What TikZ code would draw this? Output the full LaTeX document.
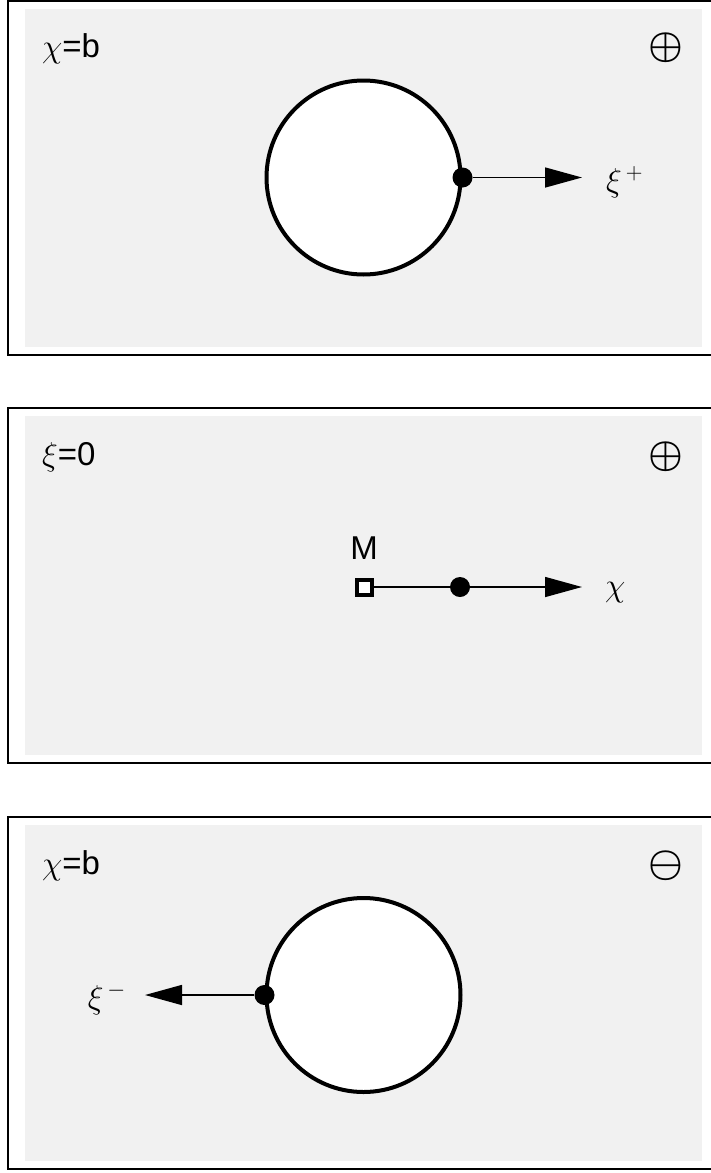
\RequirePackage{fix-cm}
\documentclass[tikz,border=0pt]{standalone}
\usepackage{fontspec}
\setmainfont{Liberation Sans}
\usepackage{xcolor}
\definecolor{pgray}{RGB}{241,241,241}
\usetikzlibrary{arrows.meta,positioning}

\begin{document}
\begin{tikzpicture}[
  x=1pt,y=-1pt,
  frame/.style={draw=black,line width=1.5pt,fill=white},
  back/.style={fill=pgray},
  ring/.style={circle,draw,line width=4pt,fill=white,minimum size=194pt,inner sep=0pt},
  dot/.style={circle,fill=black,minimum size=20pt,inner sep=0pt},
  mbox/.style={rectangle,draw,line width=4pt,fill=white,minimum size=15pt,inner sep=0pt},
  flow/.style={-{Triangle[length=37pt,width=20pt]},line width=1.5pt},
  lbl/.style={font=\fontsize{33}{40}\selectfont,inner sep=0pt},
  sign/.style={font=\fontsize{39}{46}\selectfont\boldmath,inner sep=0pt}
]
  \useasboundingbox (0,0) rectangle (710,1173);

  % Panel 1
  \draw[frame] (8,1) rectangle (716,355);
  \fill[back] (25,9) rectangle (702,347);
  \node[lbl,anchor=base west] (h1) at (42,57) {$\chi$=b};
  \node[sign] (s1) at (665.5,48) {$\oplus$};
  \node[ring] (ring1) at (363.5,177.5) {};
  \node[dot] (d1) at (ring1.east) {};
  \coordinate (t1) at (582,177.5);
  \draw[flow] (d1) -- (t1);
  \node[lbl,anchor=base west] (xp) at (606,191) {$\xi^{\,+}$};

  % Panel 2
  \draw[frame] (8,408) rectangle (716,763);
  \fill[back] (25,416) rectangle (702,755);
  \node[lbl,anchor=base west] (h2) at (42,465) {$\xi$=0};
  \node[sign] (s2) at (665.5,457) {$\oplus$};
  \node[mbox] (sq) at (364,587) {};
  \node[lbl,above=17.5pt of sq] (mlab) {M};
  \node[dot] (d2) at (460,587) {};
  \coordinate (t2) at (582,587);
  \draw[line width=1.5pt] (sq) -- (d2);
  \draw[flow] (d2) -- (t2);
  \node[lbl,anchor=base west] (xc) at (605,596) {$\chi$};

  % Panel 3
  \draw[frame] (8,817) rectangle (716,1169);
  \fill[back] (25,825) rectangle (702,1161);
  \node[lbl,anchor=base west] (h3) at (42,874) {$\chi$=b};
  \node[sign] (s3) at (665.5,866) {$\ominus$};
  \node[ring] (ring3) at (363.5,995) {};
  \node[dot] (d3) at (ring3.west) {};
  \coordinate (t3) at (145,995);
  \draw[flow] (d3) -- (t3);
  \node[lbl,anchor=base east] (xm) at (126,1008) {$\xi^{\,-}$};
\end{tikzpicture}
\end{document}
